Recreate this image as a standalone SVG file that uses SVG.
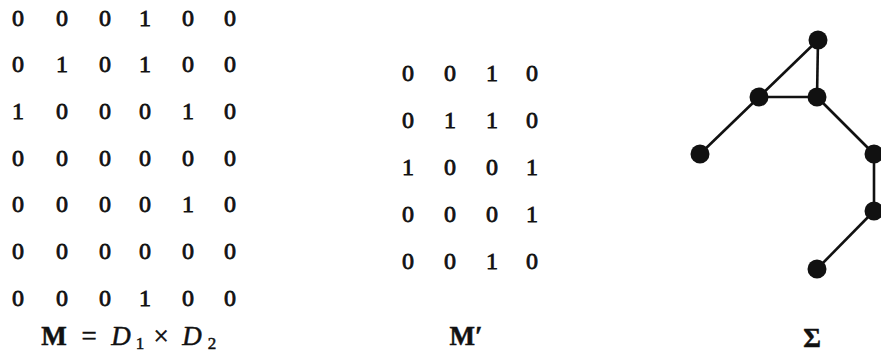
<svg xmlns="http://www.w3.org/2000/svg" width="881" height="353" viewBox="0 0 881 353">
<style>
.d{font-family:"Liberation Serif","Times New Roman",serif;font-size:24px;fill:#111;stroke:#111;stroke-width:0.8;text-anchor:middle}
.lbl{font-family:"Liberation Serif","Times New Roman",serif;font-size:27px;fill:#111;stroke:#111;stroke-width:0.5;text-anchor:middle}
.b{font-weight:bold}
.e{stroke:#111;stroke-width:2.6;fill:none}
.n{fill:#111}
</style>
<rect width="881" height="353" fill="#fff"/>
<g id="matrixM">
<text class="d" y="26"><tspan x="18">0</tspan><tspan x="62">0</tspan><tspan x="105">0</tspan><tspan x="145">1</tspan><tspan x="188">0</tspan><tspan x="230">0</tspan></text>
<text class="d" y="72"><tspan x="18">0</tspan><tspan x="62">1</tspan><tspan x="105">0</tspan><tspan x="145">1</tspan><tspan x="188">0</tspan><tspan x="230">0</tspan></text>
<text class="d" y="119"><tspan x="18">1</tspan><tspan x="62">0</tspan><tspan x="105">0</tspan><tspan x="145">0</tspan><tspan x="188">1</tspan><tspan x="230">0</tspan></text>
<text class="d" y="166"><tspan x="18">0</tspan><tspan x="62">0</tspan><tspan x="105">0</tspan><tspan x="145">0</tspan><tspan x="188">0</tspan><tspan x="230">0</tspan></text>
<text class="d" y="212"><tspan x="18">0</tspan><tspan x="62">0</tspan><tspan x="105">0</tspan><tspan x="145">0</tspan><tspan x="188">1</tspan><tspan x="230">0</tspan></text>
<text class="d" y="259"><tspan x="18">0</tspan><tspan x="62">0</tspan><tspan x="105">0</tspan><tspan x="145">0</tspan><tspan x="188">0</tspan><tspan x="230">0</tspan></text>
<text class="d" y="306"><tspan x="18">0</tspan><tspan x="62">0</tspan><tspan x="105">0</tspan><tspan x="145">1</tspan><tspan x="188">0</tspan><tspan x="230">0</tspan></text>
<text class="lbl" y="345"><tspan x="54" class="b">M</tspan><tspan x="89">=</tspan><tspan x="121" font-style="italic">D</tspan><tspan x="140" font-size="17" dy="4">1</tspan><tspan x="161" dy="-4">×</tspan><tspan x="192" font-style="italic">D</tspan><tspan x="212" font-size="17" dy="4">2</tspan></text>
</g>
<g id="matrixMprime">
<text class="d" y="81"><tspan x="408">0</tspan><tspan x="450">0</tspan><tspan x="492">1</tspan><tspan x="532">0</tspan></text>
<text class="d" y="128"><tspan x="408">0</tspan><tspan x="450">1</tspan><tspan x="492">1</tspan><tspan x="532">0</tspan></text>
<text class="d" y="175"><tspan x="408">1</tspan><tspan x="450">0</tspan><tspan x="492">0</tspan><tspan x="532">1</tspan></text>
<text class="d" y="222"><tspan x="408">0</tspan><tspan x="450">0</tspan><tspan x="492">0</tspan><tspan x="532">1</tspan></text>
<text class="d" y="269"><tspan x="408">0</tspan><tspan x="450">0</tspan><tspan x="492">1</tspan><tspan x="532">0</tspan></text>
<text class="lbl b" x="466" y="345">M′</text>
</g>
<g id="connectors">
<line class="e" x1="818" y1="40" x2="759" y2="97"/>
<line class="e" x1="818" y1="40" x2="817" y2="97"/>
<line class="e" x1="759" y1="97" x2="817" y2="97"/>
<line class="e" x1="759" y1="97" x2="700" y2="154"/>
<line class="e" x1="817" y1="97" x2="874" y2="154"/>
<line class="e" x1="874" y1="154" x2="874" y2="211"/>
<line class="e" x1="874" y1="211" x2="817" y2="269"/>
</g>
<g id="n1"><circle class="n" cx="818" cy="40" r="9.5"/></g>
<g id="n2"><circle class="n" cx="759" cy="97" r="9.5"/></g>
<g id="n3"><circle class="n" cx="817" cy="97" r="9.5"/></g>
<g id="n4"><circle class="n" cx="700" cy="154" r="9.5"/></g>
<g id="n5"><circle class="n" cx="874" cy="154" r="9.5"/></g>
<g id="n6"><circle class="n" cx="874" cy="211" r="9.5"/></g>
<g id="n7"><circle class="n" cx="817" cy="269" r="9.5"/></g>
<g id="sigma"><text class="lbl b" x="812" y="347">Σ</text></g>
</svg>
